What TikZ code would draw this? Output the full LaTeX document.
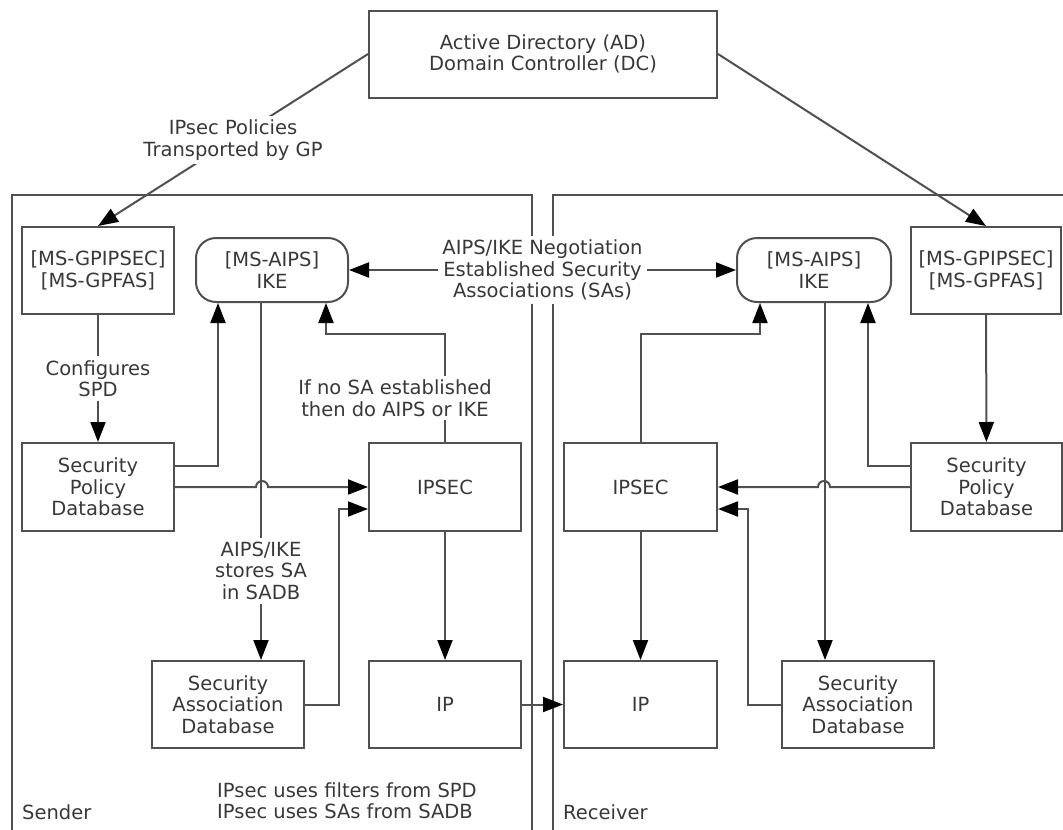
\documentclass[tikz,border=0pt]{standalone}
\usepackage{fontspec}
\setmainfont{DejaVu Sans}
\usetikzlibrary{arrows.meta}
\definecolor{linegray}{HTML}{505050}
\definecolor{textgray}{HTML}{383838}

\begin{document}
\begin{tikzpicture}[x=1pt,y=-1pt,
    font=\fontsize{19.5}{21.5}\selectfont,
    box/.style={draw=linegray, line width=2pt, text=textgray, align=center,
      inner sep=0pt, minimum width=152pt, minimum height=88pt},
    ike/.style={box, rounded corners=20pt, minimum height=64pt},
    lbl/.style={fill=white, text=textgray, align=center, inner sep=4pt},
    txt/.style={text=textgray, anchor=west, align=left, inner sep=0pt},
    conn/.style={draw=linegray, line width=2pt},
    arr/.style={-{Triangle[length=20pt,width=15pt,color=black]}},
    arrs/.style={{Triangle[length=20pt,width=15pt,color=black]}-{Triangle[length=20pt,width=15pt,color=black]}}]
    \useasboundingbox (0,0) rectangle (1063,830);
    \clip (0,0) rectangle (1063,830);

    % sender and receiver frames
    \draw [conn] (12,840) -- (12,195) -- (532,195) -- (532,840);
    \draw [conn] (553,840) -- (553,195) -- (1070,195);

    % boxes
    \node [box, minimum width=348pt, minimum height=87pt] (ad) at (543,54) {Active Directory (AD)\\Domain Controller (DC)};
    \node [box, minimum height=87pt] (gpL) at (98,270.5) {[MS-GPIPSEC]\\{[MS-GPFAS]}};
    \node [ike] (ikeL) at (272,270) {[MS-AIPS]\\IKE};
    \node [box] (spdL) at (98,487) {Security\\Policy\\Database};
    \node [box] (ipsecL) at (445,487) {IPSEC};
    \node [box, minimum height=87pt] (sadL) at (228,704.5) {Security\\Association\\Database};
    \node [box, minimum height=87pt] (ipL) at (445,704.5) {IP};

    \node [ike, minimum width=154pt] (ikeR) at (814,270) {[MS-AIPS]\\IKE};
    \node [box, minimum width=150pt, minimum height=87pt] (gpR) at (986,270.5) {[MS-GPIPSEC]\\{[MS-GPFAS]}};
    \node [box, minimum width=151pt] (spdR) at (986.5,487) {Security\\Policy\\Database};
    \node [box, minimum width=153pt] (ipsecR) at (640.5,487) {IPSEC};
    \node [box, minimum width=153pt, minimum height=87pt] (ipR) at (640.5,704.5) {IP};
    \node [box, minimum height=87pt] (sadR) at (858,704.5) {Security\\Association\\Database};

    \coordinate (sAL) at ([xshift=-11pt]ikeL.south);
    \coordinate (sAR) at ([xshift=11pt]ikeR.south);

    % policies from the DC
    \draw [conn, arr] (ad.west) -- node [lbl] {IPsec Policies\\Transported by GP} (gpL.north);
    \draw [conn, arr] (ad.east) -- (gpR.north);

    % sender side
    \draw [conn, arr] (gpL) -- node [lbl] {Configures\\SPD} (spdL);
    \draw [conn, arr] ([yshift=21pt]spdL.east) -| ([xshift=-54pt]ikeL.south);
    \draw [conn, arr] (spdL.east) -- ++(81,0) arc [start angle=180, end angle=0, radius=6pt] -- (ipsecL.west);
    \draw [conn, arr] (sAL) -- node [lbl, pos=0.75] {AIPS/IKE\\stores SA\\in SADB} (sAL |- sadL.north);
    \draw [conn, arr] (ipsecL.north) -- ++(0,-108) -| ([xshift=54pt]ikeL.south);
    \node [lbl] (nosa) at (395,398) {If no SA established\\then do AIPS or IKE};
    \draw [conn, arr] (sadL.east) -- ++(34,0) |- ([yshift=-22pt]ipsecL.west);
    \draw [conn, arr] (ipsecL) -- (ipL);

    % between the hosts
    \draw [conn, arr] (ipL) -- (ipR);
    \draw [conn, arrs] (ikeL) -- node [lbl] {AIPS/IKE Negotiation\\Established Security\\Associations (SAs)} (ikeR);

    % receiver side
    \draw [conn, arr] (gpR) -- (spdR);
    \draw [conn, arr] ([yshift=21pt]spdR.west) -| ([xshift=54pt]ikeR.south);
    \draw [conn, arr] (spdR.west) -- ++(-80,0) arc [start angle=0, end angle=180, radius=6pt] -- (ipsecR.east);
    \draw [conn, arr] (sAR) -- (sAR |- sadR.north);
    \draw [conn, arr] (ipsecR.north) -- ++(0,-108) -| ([xshift=-54pt]ikeR.south);
    \draw [conn, arr] (sadR.west) -- ++(-33,0) |- ([yshift=-22pt]ipsecR.east);
    \draw [conn, arr] (ipsecR) -- (ipR);

    % frame captions
    \node [txt] (sender) at (22,812) {Sender};
    \node [txt] (receiver) at (563,812) {Receiver};
    \node [txt] (uses) at (217,800.5) {IPsec uses filters from SPD\\IPsec uses SAs from SADB};
\end{tikzpicture}
\end{document}
